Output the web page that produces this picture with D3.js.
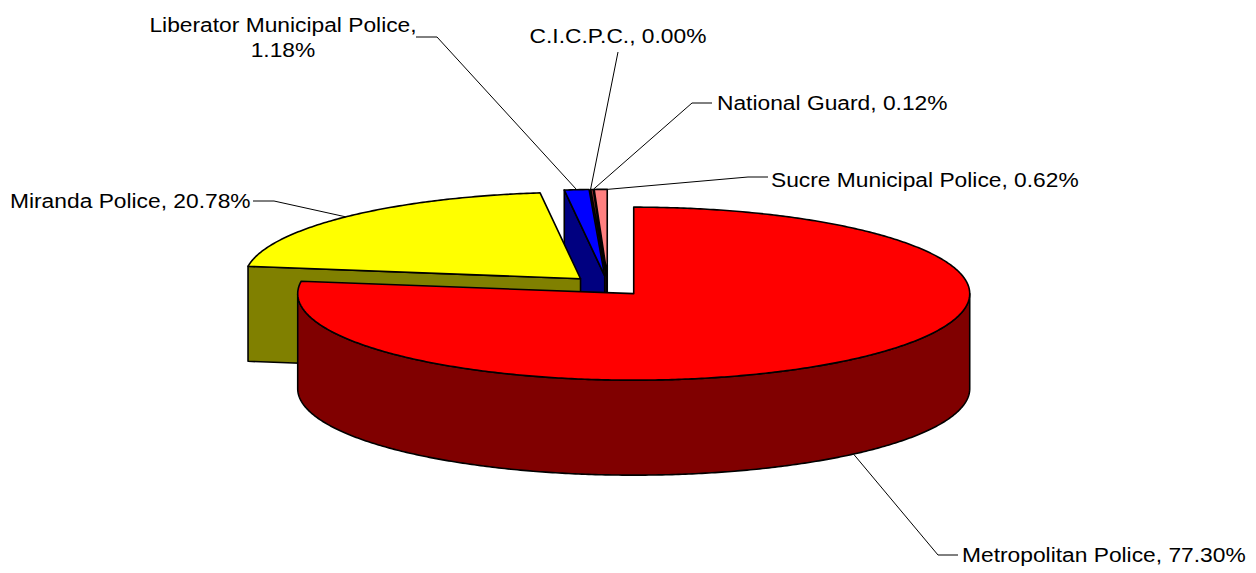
<!DOCTYPE html>
<html>
<head>
<meta charset="utf-8">
<script src="https://cdn.jsdelivr.net/npm/d3@7"></script>
<style>
  body { margin: 0; background: #fff; }
  svg { display: block; }
  text { font-family: "Liberation Sans", Arial, sans-serif; font-size: 21px; fill: #000; }
</style>
</head>
<body>
<svg id="chart" width="1256" height="573"></svg>
<script>
// data
const categories = ["Metropolitan Police", "Miranda Police", "Liberator Municipal Police",
    "C.I.C.P.C.", "National Guard", "Sucre Municipal Police"]
const shares = [77.30, 20.78, 1.18, 0.00, 0.12, 0.62]
const topColors = ["#ff0000", "#ffff00", "#0000ff", "#9999ff", "#993333", "#ff8080"]
const sideColors = ["#800000", "#808000", "#000080", "#4c4c80", "#4c1919", "#804040"]

// label layout (x, baseline, anchor, leader elbow points, where on the slice the leader ends)
const labelLayout = [
    {x: 962, y: 562, anchor: "start", lines: 1, leader: [[958, 555], [938, 555]], tip: 0.5, bottom: true},
    {x: 10, y: 208, anchor: "start", lines: 1, leader: [[253, 201], [274, 201]], tip: 0.5},
    {x: 283, y: 32, anchor: "middle", lines: 2, leader: [[416, 37], [437, 37]], tip: 0.5},
    {x: 618, y: 43, anchor: "middle", lines: 1, leader: [[618, 52]], tip: 0.5},
    {x: 717, y: 110, anchor: "start", lines: 1, leader: [[712, 103], [692, 103]], tip: 1},
    {x: 771, y: 187, anchor: "start", lines: 1, leader: [[768, 177], [748, 177]], tip: 1}
]

const width = 1256,
    height = 573,
    cx = 608,
    cy = 286,
    rx = 336,
    ry = 86.5,
    depth = 95,
    explode = 0.117

const svg = d3.select('#chart')

const xScale = d3.scaleLinear().domain([-1, 1]).range([cx - rx, cx + rx])
const yScale = d3.scaleLinear().domain([-1, 1]).range([cy + ry, cy - ry])
const zScale = d3.scaleLinear().domain([0, 1]).range([0, depth])

const slices = d3.pie()
    .sort(null)
    .value(d => d)
    .startAngle(0)
    .endAngle(2 * Math.PI)(shares)

const midAngle = s => (s.startAngle + s.endAngle) / 2

// ground point of a slice -> screen point
const point = (s, theta, r, z) => {
    const mid = midAngle(s)
    const gx = explode * Math.sin(mid) + r * Math.sin(theta)
    const gy = explode * Math.cos(mid) + r * Math.cos(theta)
    return [xScale(gx), yScale(gy) + zScale(z)]
}

const arcPoints = (s, a0, a1, z) => {
    const n = Math.max(2, Math.ceil(Math.abs(a1 - a0) / 0.01))
    return d3.range(n + 1).map(i => point(s, a0 + (a1 - a0) * i / n, 1, z))
}

const line = d3.line()
const closed = pts => line(pts) + 'Z'

const pieG = svg.append('g')

// back slices first
const order = slices
    .map((s, i) => ({s, i}))
    .filter(d => d.s.value > 0)
    .sort((a, b) => Math.cos(midAngle(b.s)) - Math.cos(midAngle(a.s)))

order.forEach(({s, i}) => {
    const g = pieG.append('g')
        .attr('stroke', '#000')
        .attr('stroke-width', 1.6)
        .attr('stroke-linejoin', 'round')
    const a0 = s.startAngle, a1 = s.endAngle
    const apexTop = point(s, 0, 0, 0), apexBot = point(s, 0, 0, 1)

    // cut faces turned toward the viewer
    if (Math.sin(a0) < -1e-6) {
        g.append('path')
            .attr('d', closed([apexTop, point(s, a0, 1, 0), point(s, a0, 1, 1), apexBot]))
            .attr('fill', sideColors[i])
    }
    if (Math.sin(a1) > 1e-6) {
        g.append('path')
            .attr('d', closed([apexTop, point(s, a1, 1, 0), point(s, a1, 1, 1), apexBot]))
            .attr('fill', sideColors[i])
    }

    // front part of the outer wall
    const lo = Math.max(a0, Math.PI / 2), hi = Math.min(a1, 3 * Math.PI / 2)
    if (hi > lo) {
        const pts = arcPoints(s, lo, hi, 0).concat(arcPoints(s, hi, lo, 1))
        g.append('path')
            .attr('d', closed(pts))
            .attr('fill', sideColors[i])
    }

    // top face
    g.append('path')
        .attr('d', closed([apexTop].concat(arcPoints(s, a0, a1, 0))))
        .attr('fill', topColors[i])
})

// leader lines
const leaderG = svg.append('g')
    .attr('fill', 'none')
    .attr('stroke', '#000')
    .attr('stroke-width', 1)

slices.forEach((s, i) => {
    const lay = labelLayout[i]
    const a = s.startAngle + (s.endAngle - s.startAngle) * lay.tip
    const anchor = point(s, a, 1, lay.bottom ? 1 : 0)
    leaderG.append('path')
        .attr('d', line(lay.leader.concat([anchor])))
})

// labels
const labelG = svg.append('g')
slices.forEach((s, i) => {
    const lay = labelLayout[i]
    const pct = d3.format('.2f')(shares[i]) + '%'
    const g = labelG.append('g')
        .attr('transform', `translate(${lay.x},${lay.y}) scale(1.085,1)`)
    const t = g.append('text').attr('text-anchor', lay.anchor)
    if (lay.lines === 2) {
        t.append('tspan').attr('x', 0).attr('y', 0).text(categories[i] + ',')
        t.append('tspan').attr('x', 0).attr('y', 25).text(pct)
    } else {
        t.text(categories[i] + ', ' + pct)
    }
})
</script>
</body>
</html>
